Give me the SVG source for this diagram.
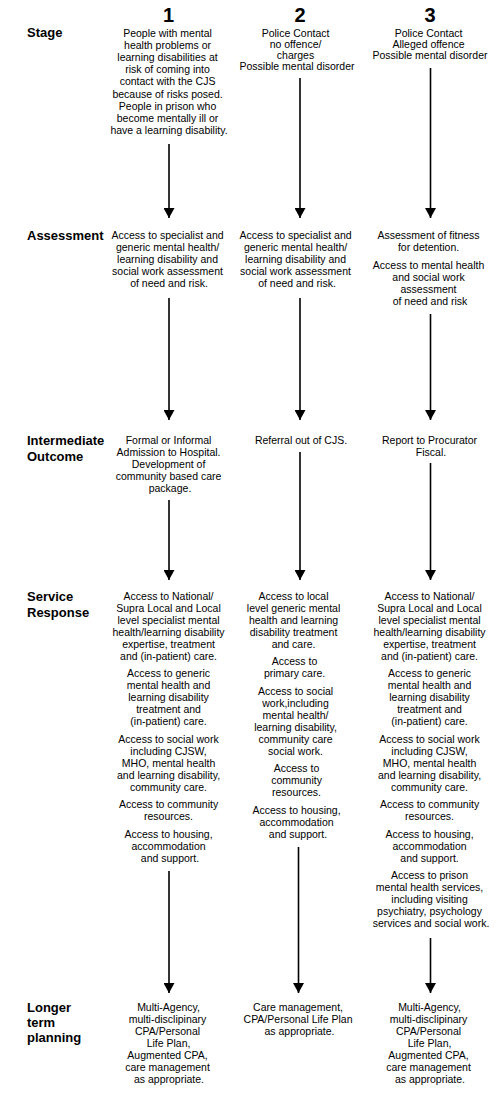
<svg xmlns="http://www.w3.org/2000/svg" width="500" height="1105" viewBox="0 0 500 1105">
<style>
.t{font-family:"Liberation Sans",Arial,sans-serif;font-size:10.5px;fill:#000;text-anchor:middle}
.lab{font-family:"Liberation Sans",Arial,sans-serif;font-size:13px;font-weight:bold;fill:#000}
.num{font-family:"Liberation Sans",Arial,sans-serif;font-size:20px;font-weight:bold;fill:#000;text-anchor:middle}
.c{stroke:#000;stroke-width:1.6;fill:none;marker-end:url(#ah)}
</style>
<defs>
<marker id="ah" markerUnits="userSpaceOnUse" viewBox="0 0 10 11" markerWidth="10" markerHeight="11" refX="10" refY="5.5" orient="auto">
<path d="M0,0 L10,5.5 L0,11 z" fill="#000"/>
</marker>
</defs>
<rect width="500" height="1105" fill="#fff"/>

<g id="labels">
<text class="lab" x="27" y="37">Stage</text>
<text class="lab" x="27" y="240">Assessment</text>
<text class="lab" x="27" y="445">Intermediate</text>
<text class="lab" x="27" y="461">Outcome</text>
<text class="lab" x="27" y="601">Service</text>
<text class="lab" x="27" y="617">Response</text>
<text class="lab" x="27" y="1012">Longer</text>
<text class="lab" x="27" y="1027">term</text>
<text class="lab" x="27" y="1042">planning</text>
</g>

<g id="numbers">
<text class="num" x="168.5" y="21.5">1</text>
<text class="num" x="300" y="21.5">2</text>
<text class="num" x="430" y="21.5">3</text>
</g>

<g id="stage1"><text class="t">
<tspan x="169" y="37">People with mental</tspan>
<tspan x="169" y="49.1">health problems or</tspan>
<tspan x="169" y="61.2">learning disabilities at</tspan>
<tspan x="169" y="73.3">risk of coming into</tspan>
<tspan x="169" y="85.4">contact with the CJS</tspan>
<tspan x="169" y="97.5">because of risks posed.</tspan>
<tspan x="169" y="109.6">People in prison who</tspan>
<tspan x="169" y="121.7">become mentally ill or</tspan>
<tspan x="169" y="133.8">have a learning disability.</tspan>
</text></g>

<g id="stage2"><text class="t">
<tspan x="297" y="37">Police Contact</tspan>
<tspan x="297" y="48">no offence/</tspan>
<tspan x="297" y="59">charges</tspan>
<tspan x="297" y="70">Possible mental disorder</tspan>
</text></g>

<g id="stage3"><text class="t">
<tspan x="430" y="37">Police Contact</tspan>
<tspan x="430" y="48">Alleged offence</tspan>
<tspan x="430" y="59">Possible mental disorder</tspan>
</text></g>

<g id="assess1"><text class="t">
<tspan x="169" y="239">Access to specialist and</tspan>
<tspan x="169" y="251">generic mental health/</tspan>
<tspan x="169" y="263">learning disability and</tspan>
<tspan x="169" y="275">social work assessment</tspan>
<tspan x="169" y="287">of need and risk.</tspan>
</text></g>

<g id="assess2"><text class="t">
<tspan x="297" y="239">Access to specialist and</tspan>
<tspan x="297" y="251">generic mental health/</tspan>
<tspan x="297" y="263">learning disability and</tspan>
<tspan x="297" y="275">social work assessment</tspan>
<tspan x="297" y="287">of need and risk.</tspan>
</text></g>

<g id="assess3"><text class="t">
<tspan x="430" y="239">Assessment of fitness</tspan>
<tspan x="430" y="251">for detention.</tspan>
<tspan x="430" y="268.5">Access to mental health</tspan>
<tspan x="430" y="280.5">and social work</tspan>
<tspan x="430" y="292.5">assessment</tspan>
<tspan x="430" y="304.5">of need and risk</tspan>
</text></g>

<g id="inter1"><text class="t">
<tspan x="170" y="444">Formal or Informal</tspan>
<tspan x="170" y="456">Admission to Hospital.</tspan>
<tspan x="170" y="468">Development of</tspan>
<tspan x="170" y="480">community based care</tspan>
<tspan x="170" y="492">package.</tspan>
</text></g>

<g id="inter2"><text class="t">
<tspan x="301" y="444">Referral out of CJS.</tspan>
</text></g>

<g id="inter3"><text class="t">
<tspan x="431" y="444">Report to Procurator</tspan>
<tspan x="431" y="456">Fiscal.</tspan>
</text></g>

<g id="service1"><text class="t">
<tspan x="170" y="599.5">Access to National/</tspan>
<tspan x="170" y="611.5">Supra Local and Local</tspan>
<tspan x="170" y="623.5">level specialist mental</tspan>
<tspan x="170" y="635.5">health/learning disability</tspan>
<tspan x="170" y="647.5">expertise, treatment</tspan>
<tspan x="170" y="659.5">and (in-patient) care.</tspan>
<tspan x="170" y="677">Access to generic</tspan>
<tspan x="170" y="689">mental health and</tspan>
<tspan x="170" y="701">learning disability</tspan>
<tspan x="170" y="713">treatment and</tspan>
<tspan x="170" y="725">(in-patient) care.</tspan>
<tspan x="170" y="742.5">Access to social work</tspan>
<tspan x="170" y="754.5">including CJSW,</tspan>
<tspan x="170" y="766.5">MHO, mental health</tspan>
<tspan x="170" y="778.5">and learning disability,</tspan>
<tspan x="170" y="790.5">community care.</tspan>
<tspan x="170" y="808">Access to community</tspan>
<tspan x="170" y="820">resources.</tspan>
<tspan x="170" y="837.5">Access to housing,</tspan>
<tspan x="170" y="849.5">accommodation</tspan>
<tspan x="170" y="861.5">and support.</tspan>
</text></g>

<g id="service2"><text class="t">
<tspan x="295" y="599.5">Access to local</tspan>
<tspan x="295" y="611.5">level generic mental</tspan>
<tspan x="295" y="623.5">health and learning</tspan>
<tspan x="295" y="635.5">disability treatment</tspan>
<tspan x="295" y="647.5">and care.</tspan>
<tspan x="296" y="665">Access to</tspan>
<tspan x="296" y="677">primary care.</tspan>
<tspan x="297" y="694.5">Access to social</tspan>
<tspan x="297" y="706.5">work,including</tspan>
<tspan x="297" y="718.5">mental health/</tspan>
<tspan x="297" y="730.5">learning disability,</tspan>
<tspan x="297" y="742.5">community care</tspan>
<tspan x="297" y="754.5">social work.</tspan>
<tspan x="298" y="772">Access to</tspan>
<tspan x="298" y="784">community</tspan>
<tspan x="298" y="796">resources.</tspan>
<tspan x="298" y="813.5">Access to housing,</tspan>
<tspan x="298" y="825.5">accommodation</tspan>
<tspan x="298" y="837.5">and support.</tspan>
</text></g>

<g id="service3"><text class="t">
<tspan x="431" y="599.5">Access to National/</tspan>
<tspan x="431" y="611.5">Supra Local and Local</tspan>
<tspan x="431" y="623.5">level specialist mental</tspan>
<tspan x="431" y="635.5">health/learning disability</tspan>
<tspan x="431" y="647.5">expertise, treatment</tspan>
<tspan x="431" y="659.5">and (in-patient) care.</tspan>
<tspan x="431" y="677">Access to generic</tspan>
<tspan x="431" y="689">mental health and</tspan>
<tspan x="431" y="701">learning disability</tspan>
<tspan x="431" y="713">treatment and</tspan>
<tspan x="431" y="725">(in-patient) care.</tspan>
<tspan x="431" y="742.5">Access to social work</tspan>
<tspan x="431" y="754.5">including CJSW,</tspan>
<tspan x="431" y="766.5">MHO, mental health</tspan>
<tspan x="431" y="778.5">and learning disability,</tspan>
<tspan x="431" y="790.5">community care.</tspan>
<tspan x="431" y="808">Access to community</tspan>
<tspan x="431" y="820">resources.</tspan>
<tspan x="431" y="837.5">Access to housing,</tspan>
<tspan x="431" y="849.5">accommodation</tspan>
<tspan x="431" y="861.5">and support.</tspan>
<tspan x="431" y="879">Access to prison</tspan>
<tspan x="431" y="891">mental health services,</tspan>
<tspan x="431" y="903">including visiting</tspan>
<tspan x="431" y="915">psychiatry, psychology</tspan>
<tspan x="431" y="927">services and social work.</tspan>
</text></g>

<g id="longer1"><text class="t">
<tspan x="170" y="1011">Multi-Agency,</tspan>
<tspan x="169" y="1023">multi-disclipinary</tspan>
<tspan x="169" y="1035">CPA/Personal</tspan>
<tspan x="170" y="1047">Life Plan,</tspan>
<tspan x="169" y="1059">Augmented CPA,</tspan>
<tspan x="169" y="1071">care management</tspan>
<tspan x="169" y="1083">as appropriate.</tspan>
</text></g>

<g id="longer2"><text class="t">
<tspan x="299.5" y="1011">Care management,</tspan>
<tspan x="299.5" y="1023">CPA/Personal Life Plan</tspan>
<tspan x="299.5" y="1035">as appropriate.</tspan>
</text></g>

<g id="longer3"><text class="t">
<tspan x="431" y="1011">Multi-Agency,</tspan>
<tspan x="430" y="1023">multi-disclipinary</tspan>
<tspan x="430" y="1035">CPA/Personal</tspan>
<tspan x="431" y="1047">Life Plan,</tspan>
<tspan x="430" y="1059">Augmented CPA,</tspan>
<tspan x="430" y="1071">care management</tspan>
<tspan x="430" y="1083">as appropriate.</tspan>
</text></g>

<g id="connectors">
<line class="c" x1="169" y1="144" x2="169" y2="218"/>
<line class="c" x1="300" y1="78" x2="300" y2="218"/>
<line class="c" x1="430.5" y1="68" x2="430.5" y2="218"/>
<line class="c" x1="169" y1="298" x2="169" y2="420"/>
<line class="c" x1="300" y1="298" x2="300" y2="420"/>
<line class="c" x1="430.5" y1="314" x2="430.5" y2="420"/>
<line class="c" x1="169" y1="500" x2="169" y2="580"/>
<line class="c" x1="300" y1="452" x2="300" y2="580"/>
<line class="c" x1="430.5" y1="463" x2="430.5" y2="580"/>
<line class="c" x1="169" y1="871" x2="169" y2="993"/>
<line class="c" x1="298.5" y1="847" x2="298.5" y2="993"/>
<line class="c" x1="430.5" y1="938" x2="430.5" y2="993"/>
</g>
</svg>
